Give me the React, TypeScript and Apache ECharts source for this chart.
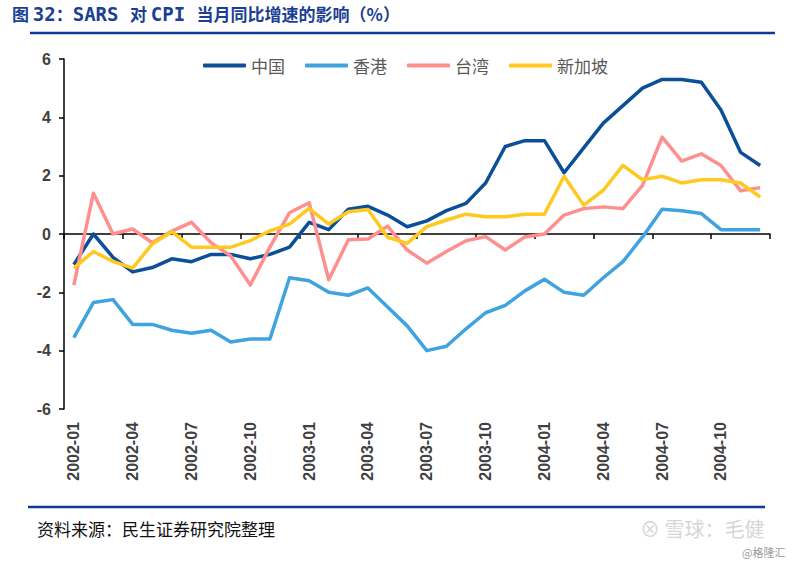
import React, { useEffect, useRef } from "react";
import * as echarts from "echarts";

const months: string[] = [
  "2002-01", "2002-02", "2002-03", "2002-04", "2002-05", "2002-06", "2002-07", "2002-08", "2002-09", "2002-10", "2002-11", "2002-12",
  "2003-01", "2003-02", "2003-03", "2003-04", "2003-05", "2003-06", "2003-07", "2003-08", "2003-09", "2003-10", "2003-11", "2003-12",
  "2004-01", "2004-02", "2004-03", "2004-04", "2004-05", "2004-06", "2004-07", "2004-08", "2004-09", "2004-10", "2004-11", "2004-12",
];

const china: number[] = [
  -1.05, 0.0, -0.8, -1.3, -1.15, -0.85, -0.95, -0.7, -0.7, -0.85, -0.7, -0.45,
  0.4, 0.15, 0.85, 0.95, 0.65, 0.25, 0.45, 0.8, 1.05, 1.75, 3.0, 3.2,
  3.2, 2.1, 2.95, 3.8, 4.4, 5.0, 5.3, 5.3, 5.2, 4.25, 2.8, 2.35,
];

const hongKong: number[] = [
  -3.55, -2.35, -2.25, -3.1, -3.1, -3.3, -3.4, -3.3, -3.7, -3.6, -3.6, -1.5,
  -1.6, -2.0, -2.1, -1.85, -2.5, -3.15, -4.0, -3.85, -3.25, -2.7, -2.45, -1.95,
  -1.55, -2.0, -2.1, -1.5, -0.95, -0.1, 0.85, 0.8, 0.7, 0.15, 0.15, 0.15,
];

const taiwan: number[] = [
  -1.75, 1.4, 0.0, 0.17, -0.3, 0.1, 0.4, -0.3, -0.75, -1.75, -0.45, 0.73,
  1.07, -1.57, -0.2, -0.17, 0.27, -0.55, -1.0, -0.6, -0.23, -0.09, -0.55, -0.1,
  0.0, 0.65, 0.87, 0.93, 0.87, 1.67, 3.32, 2.5, 2.75, 2.35, 1.48, 1.59,
];

const singapore: number[] = [
  -1.17, -0.6, -0.94, -1.17, -0.34, 0.08, -0.45, -0.45, -0.45, -0.23, 0.11, 0.34,
  0.88, 0.34, 0.76, 0.84, -0.11, -0.32, 0.25, 0.48, 0.68, 0.59, 0.59, 0.68,
  0.68, 1.98, 0.99, 1.5, 2.35, 1.86, 1.98, 1.75, 1.86, 1.86, 1.75, 1.27,
];

const seriesNames: string[] = ["中国", "香港", "台湾", "新加坡"];
const seriesColors: string[] = ["#0a4f98", "#3fa3e0", "#ff8f8f", "#ffc920"];

const titleRich = "{c|图 }{m|32}{c|：}{m|SARS }{c|对 }{m|CPI }{c|当月同比增速的影响（%）}";
const sourceText = "资料来源：民生证券研究院整理";

export default function App() {
  const ref = useRef<HTMLDivElement>(null);

  useEffect(() => {
    if (!ref.current) return;
    const chart = echarts.init(ref.current, undefined, { renderer: "svg" });
    const dataSets = [china, hongKong, taiwan, singapore];
    const axisLabelFont = { fontFamily: "Arial, 'Liberation Sans', sans-serif", fontWeight: "bold" as const, color: "#404040" };
    const titleColor = "#1b3f94";

    chart.setOption({
      animation: false,
      backgroundColor: "#ffffff",
      grid: { left: 64, right: 30, top: 59, bottom: 152, containLabel: false },
      legend: {
        data: seriesNames,
        left: 198,
        top: 52,
        itemWidth: 43,
        itemHeight: 4,
        itemGap: 20,
        icon: "roundRect",
        textStyle: { fontSize: 17, color: "#595959", fontFamily: "'Noto Sans CJK SC', sans-serif" },
      },
      xAxis: [
        {
          type: "category",
          data: months,
          boundaryGap: true,
          position: "bottom",
          axisLine: { show: true, onZero: true, lineStyle: { color: "#000", width: 1.5 } },
          axisTick: { show: true, interval: 2, length: 5, inside: false, lineStyle: { color: "#000", width: 1.5 } },
          axisLabel: { show: false },
          splitLine: { show: false },
        },
        {
          type: "category",
          data: months,
          boundaryGap: true,
          position: "bottom",
          axisLine: { show: false, onZero: false },
          axisTick: { show: false },
          axisLabel: { show: true, interval: 2, rotate: 90, margin: 13, fontSize: 16, ...axisLabelFont },
          splitLine: { show: false },
        },
      ],
      yAxis: {
        type: "value",
        min: -6,
        max: 6,
        interval: 2,
        axisLine: { show: true, lineStyle: { color: "#000", width: 1.5 } },
        axisTick: { show: true, length: 5, inside: false, lineStyle: { color: "#000", width: 1.5 } },
        axisLabel: { fontSize: 16, margin: 13, ...axisLabelFont },
        splitLine: { show: false },
      },
      series: seriesNames.map((name, i) => ({
        name,
        type: "line",
        xAxisIndex: 0,
        data: dataSets[i],
        symbol: "none",
        smooth: false,
        lineStyle: { width: 3.5, color: seriesColors[i], join: "round" },
        itemStyle: { color: seriesColors[i] },
      })),
      graphic: [
        {
          type: "text",
          left: 12,
          top: 4,
          style: {
            text: titleRich,
            fill: titleColor,
            rich: {
              c: { fontSize: 17, fontWeight: "bold", color: titleColor, fontFamily: "'Noto Sans CJK SC', sans-serif" },
              m: { fontSize: 19, fontWeight: "bold", color: titleColor, fontFamily: "'DejaVu Sans Mono', 'Liberation Mono', monospace" },
            },
          },
        },
        {
          type: "line",
          shape: { x1: 30, y1: 33, x2: 775, y2: 33 },
          style: { stroke: "#0d3b8f", lineWidth: 2.5 },
        },
        {
          type: "line",
          shape: { x1: 28, y1: 507, x2: 765, y2: 507 },
          style: { stroke: "#0d3b8f", lineWidth: 2.5 },
        },
        {
          type: "text",
          left: 37,
          top: 520,
          style: { text: sourceText, fill: "#111", fontSize: 17, fontFamily: "'Noto Sans CJK SC', serif" },
        },
        {
          type: "text",
          left: 640,
          top: 518,
          style: { text: "⊗ 雪球：毛健", fill: "#d6d6d6", fontSize: 20, fontFamily: "'Noto Sans CJK SC', sans-serif" },
        },
        {
          type: "text",
          left: 742,
          top: 546,
          style: { text: "@格隆汇", fill: "#9a9a9a", fontSize: 11, fontFamily: "'Noto Sans CJK SC', sans-serif" },
        },
      ],
    });

    return () => chart.dispose();
  }, []);

  return <div ref={ref} style={{ width: 800, height: 561, position: "absolute", left: 0, top: 0 }} />;
}
